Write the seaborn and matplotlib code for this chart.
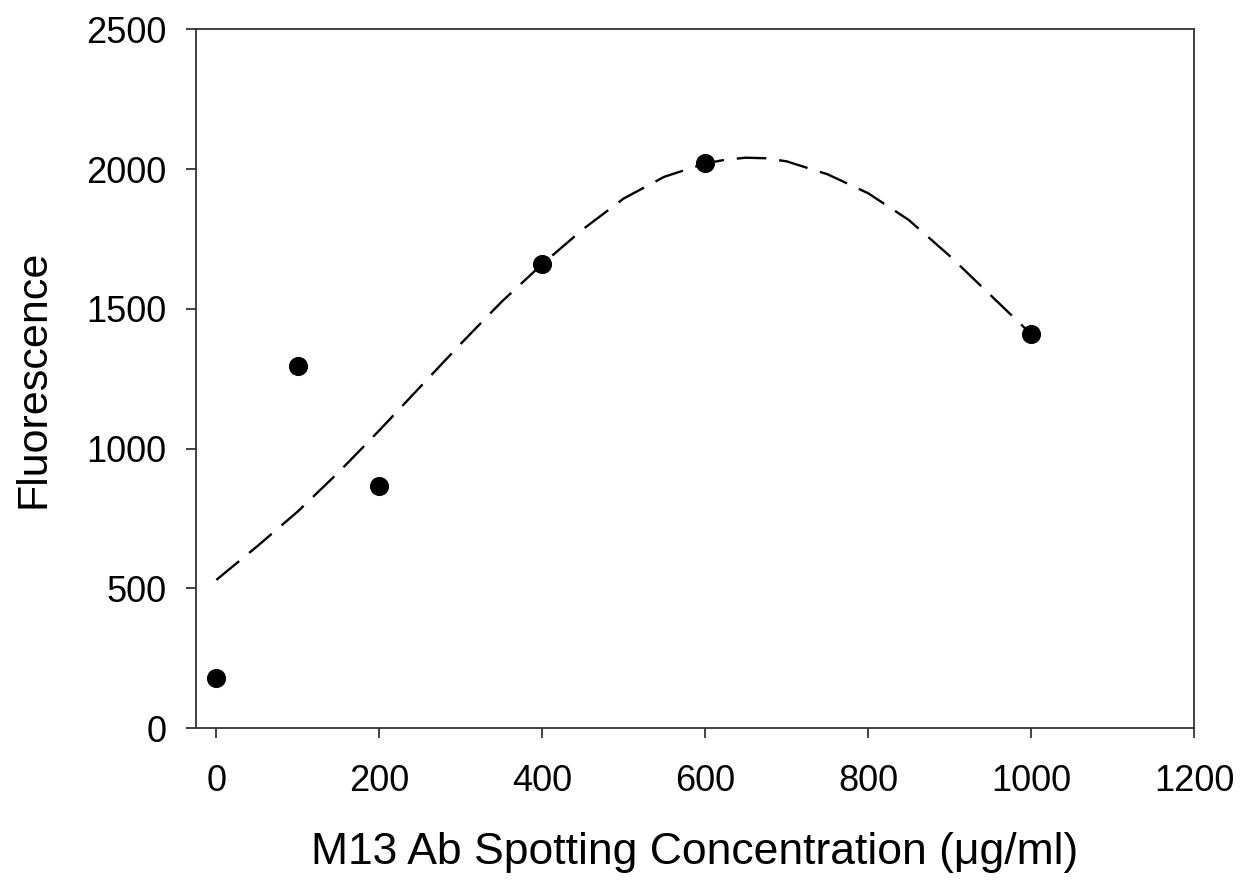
import numpy as np
import pandas as pd
import matplotlib
matplotlib.use("Agg")
import matplotlib.pyplot as plt
import seaborn as sns

# Measured fluorescence at each spotting concentration
concentration = [0, 100, 200, 400, 600, 1000]
fluorescence = [180, 1296, 866, 1660, 2022, 1410]

# Fitted response curve
fit_x = [0, 50, 100, 150, 200, 250, 300, 350, 400, 450, 500, 550,
         600, 625, 650, 675, 700, 750, 800, 850, 900, 950, 1000]
fit_y = [530, 650, 775, 915, 1065, 1220, 1375, 1525, 1660, 1785, 1895, 1973,
         2020, 2034, 2041, 2039, 2028, 1982, 1914, 1818, 1690, 1550, 1410]

x_ticks = [0, 200, 400, 600, 800, 1000, 1200]
y_ticks = [0, 500, 1000, 1500, 2000, 2500]

sns.set_style("ticks")
plt.rcParams["font.family"] = ["Liberation Sans", "DejaVu Sans"]

points = pd.DataFrame({"conc": concentration, "fluor": fluorescence})
curve = pd.DataFrame({"conc": fit_x, "fluor": fit_y})

fig = plt.figure(figsize=(12.45, 8.82), dpi=100)
ax = fig.add_axes([0.1574, 0.1746, 0.8016, 0.792])

sns.lineplot(data=curve, x="conc", y="fluor", ax=ax, color="black",
             linewidth=1.7, linestyle=(0, (12.5, 5.5)))
sns.scatterplot(data=points, x="conc", y="fluor", ax=ax, color="black",
                s=190, edgecolor="black", linewidth=0, zorder=3)

ax.set_xlim(-25, 1200)
ax.set_ylim(0, 2500)
ax.set_xticks(x_ticks)
ax.set_yticks(y_ticks)
ax.set_xticklabels([str(t) for t in x_ticks])
ax.set_yticklabels([str(t) for t in y_ticks])

for side in ["top", "right", "left", "bottom"]:
    ax.spines[side].set_visible(True)
    ax.spines[side].set_linewidth(1.3)
    ax.spines[side].set_color("#333333")

ax.tick_params(axis="both", direction="out", length=7, width=1.3,
               color="#333333", labelsize=26, labelcolor="black")
ax.tick_params(axis="x", pad=19)
ax.tick_params(axis="y", pad=14)

ax.set_xlabel("M13 Ab Spotting Concentration (\u03bcg/ml)", fontsize=32,
              labelpad=24, color="black")
ax.set_ylabel("Fluorescence", fontsize=31, labelpad=24, color="black")

fig.savefig("out.png", dpi=100)
